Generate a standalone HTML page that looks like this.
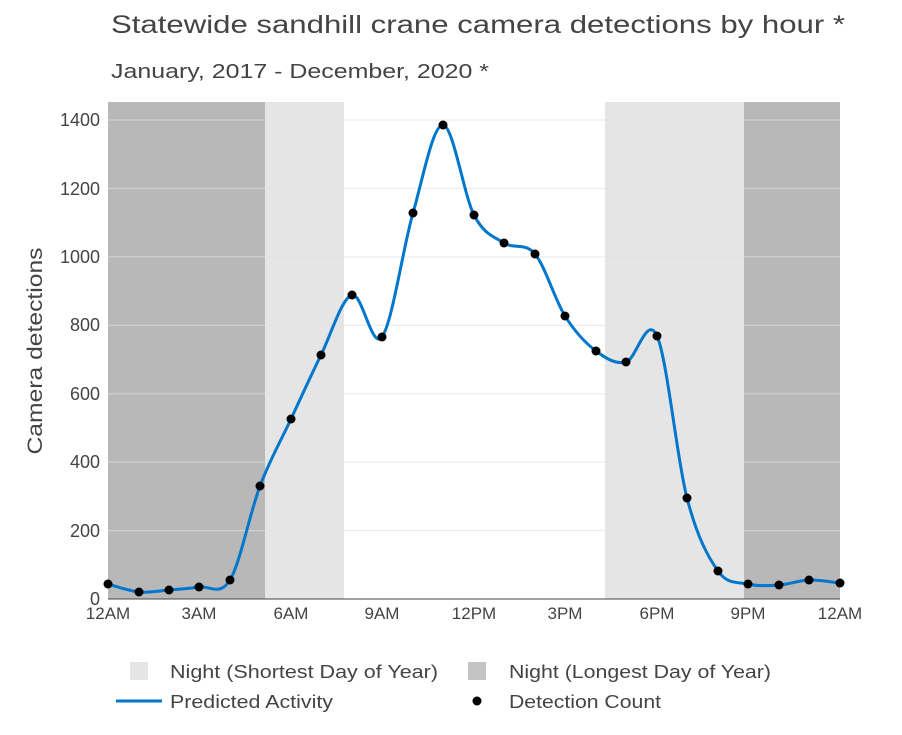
<!DOCTYPE html>
<html><head><meta charset="utf-8"><style>
body{margin:0;background:#fff;}
svg text{font-family:"Liberation Sans",Arial,sans-serif;}
</style></head><body>
<svg id="s" width="902" height="730" xmlns="http://www.w3.org/2000/svg">
<rect width="902" height="730" fill="#fff"/>
<text x="111" y="33" font-size="25" fill="#444" textLength="734" lengthAdjust="spacingAndGlyphs">Statewide sandhill crane camera detections by hour *</text>
<text x="111" y="78" font-size="20" fill="#444" textLength="378" lengthAdjust="spacingAndGlyphs">January, 2017 - December, 2020 *</text>
<rect x="108" y="102" width="157" height="497" fill="#b8b8b8"/>
<rect x="265" y="102" width="79" height="497" fill="#e5e5e5"/>
<rect x="605" y="102" width="139" height="497" fill="#e5e5e5"/>
<rect x="744" y="102" width="96" height="497" fill="#b8b8b8"/>
<g stroke="#e0e0e0" stroke-width="1" opacity="0.7">
<line x1="108" x2="840" y1="530.6" y2="530.6"/><line x1="108" x2="840" y1="462.1" y2="462.1"/>
<line x1="108" x2="840" y1="393.7" y2="393.7"/><line x1="108" x2="840" y1="325.3" y2="325.3"/>
<line x1="108" x2="840" y1="256.9" y2="256.9"/><line x1="108" x2="840" y1="188.4" y2="188.4"/>
<line x1="108" x2="840" y1="120" y2="120"/>
</g>
<line x1="108" x2="840" y1="599" y2="599" stroke="#444" stroke-width="1"/>
<g font-size="18" fill="#444" text-anchor="end">
<text x="100" y="605">0</text><text x="100" y="537">200</text><text x="100" y="468">400</text>
<text x="100" y="400">600</text><text x="100" y="331">800</text><text x="100" y="263">1000</text>
<text x="100" y="195">1200</text><text x="100" y="126">1400</text>
</g>
<g font-size="17" fill="#444" text-anchor="middle">
<text x="108" y="619">12AM</text><text x="199" y="619">3AM</text><text x="291" y="619">6AM</text>
<text x="382" y="619">9AM</text><text x="474" y="619">12PM</text><text x="565" y="619">3PM</text>
<text x="657" y="619">6PM</text><text x="748" y="619">9PM</text><text x="840" y="619">12AM</text>
</g>
<text transform="translate(42,351) rotate(-90)" font-size="21" fill="#444" text-anchor="middle" textLength="207" lengthAdjust="spacingAndGlyphs">Camera detections</text>
<path id="c" fill="none" stroke="#0077cc" stroke-width="3"/>
<g id="d" fill="#000"></g>
<rect x="130" y="662" width="18" height="18" fill="#e5e5e5"/>
<text x="170" y="678" font-size="18" fill="#444" textLength="268" lengthAdjust="spacingAndGlyphs">Night (Shortest Day of Year)</text>
<rect x="468" y="662" width="18" height="18" fill="#c4c4c4"/>
<text x="509" y="678" font-size="18" fill="#444" textLength="262" lengthAdjust="spacingAndGlyphs">Night (Longest Day of Year)</text>
<line x1="116" x2="162" y1="701" y2="701" stroke="#0077cc" stroke-width="3"/>
<text x="170" y="708" font-size="18" fill="#444" textLength="163" lengthAdjust="spacingAndGlyphs">Predicted Activity</text>
<circle cx="477" cy="701" r="4.5" fill="#000"/>
<text x="509" y="708" font-size="18" fill="#444" textLength="152" lengthAdjust="spacingAndGlyphs">Detection Count</text>
</svg>
<script>
var p=[[108,584],[139,592],[169,590],[199,587],[230,580],[260,486],[291,419],[321,355],[352,295],[382,337],[413,213],[443,125],[474,215],[504,243],[535,254],[565,316],[596,351],[626,362],[657,336],[687,498],[718,571],[748,584],[779,585],[809,580],[840,583]];
var d="M"+p[0][0]+","+p[0][1];
for(var i=0;i<p.length-1;i++){var a=p[Math.max(0,i-1)],b=p[i],c=p[i+1],e=p[Math.min(p.length-1,i+2)];
d+=" C"+(b[0]+(c[0]-a[0])/6)+","+(b[1]+(c[1]-a[1])/6)+" "+(c[0]-(e[0]-b[0])/6)+","+(c[1]-(e[1]-b[1])/6)+" "+c[0]+","+c[1];}
document.getElementById("c").setAttribute("d",d);
var g=document.getElementById("d"),h="";
p.forEach(function(q){h+='<circle cx="'+q[0]+'" cy="'+q[1]+'" r="4.5"/>';});
g.innerHTML=h;
</script>
</body></html>
